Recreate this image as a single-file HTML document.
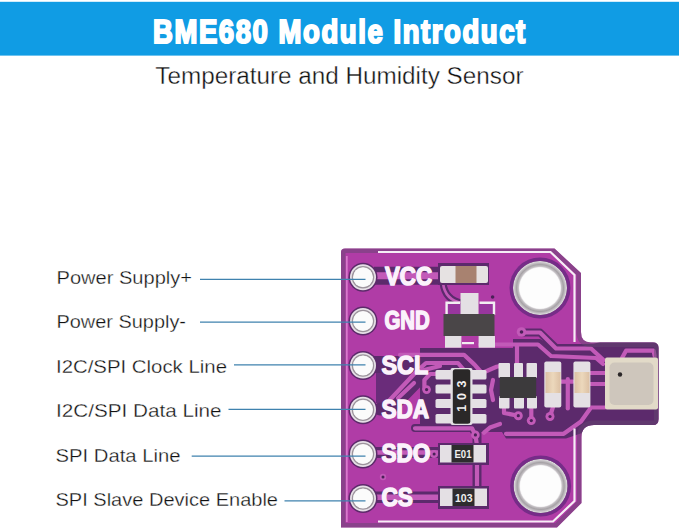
<!DOCTYPE html>
<html><head><meta charset="utf-8">
<style>
html,body{margin:0;padding:0;background:#fff;width:679px;height:530px;overflow:hidden}
svg{position:absolute;left:0;top:0;display:block}
text{font-family:"Liberation Sans",sans-serif}
</style></head>
<body>
<svg width="679" height="530" viewBox="0 0 679 530">
<defs>
<clipPath id="pcbclip"><path d="M341,252 Q341,248.5 345,248.5 L554.5,248.5 L581,273 L581,332 Q581,342.5 591,342.5 L653,342.5 Q658.5,342.5 658.5,348 L658.5,419 Q658.5,425 653,425 L594,425 Q581.5,425 581.5,437 L581.5,503 L557,527.6 L341,527.6 Z"/></clipPath>
<radialGradient id="ringg" cx="50%" cy="50%" r="50%">
<stop offset="0.76" stop-color="#f0eef0"/><stop offset="0.8" stop-color="#c4c0c4"/><stop offset="0.87" stop-color="#a6a2a6"/><stop offset="0.94" stop-color="#c8c4c8"/><stop offset="0.98" stop-color="#dedade"/><stop offset="1" stop-color="#9a969a"/>
</radialGradient>
<linearGradient id="capg" x1="0" y1="0" x2="1" y2="0"><stop offset="0" stop-color="#dcc0a4"/><stop offset="0.5" stop-color="#ecd8bc"/><stop offset="1" stop-color="#dcc0a4"/></linearGradient>
</defs>
<rect x="0" y="0" width="679" height="530" fill="#fff"/>
<!-- header -->
<rect x="0" y="1.8" width="679" height="53.8" fill="#109ce4"/>
<text transform="translate(153,42.6) scale(0.82,1)" font-size="33.5" font-weight="bold" fill="#fff" stroke="#fff" stroke-width="2.1" stroke-linejoin="miter" letter-spacing="1.94">BME680 Module Introduct</text>
<text x="155.3" y="83.7" font-size="23" fill="#111" stroke="#fff" stroke-width="0.35" textLength="368.2" lengthAdjust="spacingAndGlyphs">Temperature and Humidity Sensor</text>

<!-- labels -->
<g font-size="18.3" fill="#111" stroke="#fff" stroke-width="0.3">
<text x="56.5" y="284" textLength="135.5" lengthAdjust="spacingAndGlyphs">Power Supply+</text>
<text x="56.5" y="327.5" textLength="129.5" lengthAdjust="spacingAndGlyphs">Power Supply-</text>
<text x="56" y="373" textLength="171" lengthAdjust="spacingAndGlyphs">I2C/SPI Clock Line</text>
<text x="56" y="416.5" textLength="165.5" lengthAdjust="spacingAndGlyphs">I2C/SPI Data Line</text>
<text x="55.5" y="462" textLength="125" lengthAdjust="spacingAndGlyphs">SPI Data Line</text>
<text x="55.5" y="506" textLength="222.5" lengthAdjust="spacingAndGlyphs">SPI Slave Device Enable</text>
</g>

<!-- PCB -->
<g id="pcb">
<path d="M341,252 Q341,248.5 345,248.5 L554.5,248.5 L581,273 L581,332 Q581,342.5 591,342.5 L653,342.5 Q658.5,342.5 658.5,348 L658.5,419 Q658.5,425 653,425 L594,425 Q581.5,425 581.5,437 L581.5,503 L557,527.6 L341,527.6 Z" fill="#b03ca6"/>
<g clip-path="url(#pcbclip)">
<!-- dark no-copper zone -->
<path d="M420,348 L513,348 L513,339 L540,339 L554,346 L590,345 L600,342 L660,342 L660,426 L594,426 L582,433 L566,438.5 L506,438.5 L502,432 L420,432 Z" fill="#5c2a6c"/>
<path d="M376,373 L414,373 L386,403 L376,403 Z" fill="#6a2c7a"/>
<!-- traces: outline then center -->
<g fill="none" stroke-linejoin="round" stroke-linecap="round">
 <g stroke="#5c2a6c" stroke-width="8">
  <polyline points="374,275.7 441,275.7" stroke-width="18" stroke-linecap="butt"/>
  <polyline points="374,364.5 420,364.5" stroke-width="17" stroke-linecap="butt"/>
  <polyline points="380,409 390,409 420,378" stroke-width="13"/>
  <polyline points="374,452.5 440,452.5" stroke-width="11" stroke-linecap="butt"/>
  <polyline points="374,497.3 440,497.3" stroke-width="11.5" stroke-linecap="butt"/>
  <polyline points="521.5,332.5 540,332.5 556,348 600,348"/>
  <polyline points="477,434 477,489" stroke-width="9"/>
  <path d="M443,283 Q445,300 462,303" stroke-width="7"/>
  <polyline points="415,428 472,428 476,434"/>
 </g>
 <g stroke="#c25ab8" stroke-width="4.2">
  <polyline points="376,275.7 441,275.7" stroke-width="7"/>
  <path d="M443,283 Q445,300 462,303" stroke-width="2.6"/>
  <polyline points="386,404 416,372 440,366"/>
  <polyline points="398,398 414,383"/>
  <polyline points="400,354.8 464,354.8 474.5,364.6 481,372"/>
  <polyline points="421.5,367 426,363 458,363 464,370"/>
  <polyline points="436,374 430,374 424.4,380 424.4,389"/>
  <polyline points="483,372.7 489,370 496.6,366.8 500,366"/>
  <polyline points="493,380 491,390 493,400"/>
  <polyline points="521.5,332.5 540,332.5 556,348.5 591,348.5 603.5,360"/>
  <polyline points="480,344.5 538,344.5 551,356 596,358 603,364"/>
  <polyline points="517,345 517,363"/>
  <polyline points="504,408 504,413 518.3,415.7"/>
  <polyline points="531.3,408 531.3,420.6"/>
  <polyline points="553,407 550,416.5"/>
  <polyline points="567.8,379 567.8,408.5"/>
  <polyline points="561,381.7 573,381.7"/>
  <polyline points="590,373 605,373"/>
  <polyline points="590,384 605,384"/>
  <polyline points="622,358 626,350.7 653.6,350.7 654.6,355.8"/>
  <polyline points="415,428.3 472,428.3 475.4,434.9 476.9,445"/>
  <polyline points="484,432.7 490,427.5 500,424"/>
  <polyline points="506,433.8 563.7,433.8 581,421.5 591,407.5 605,407.5"/>
  <polyline points="477,462 477,489"/>
  <polyline points="376,497.3 440,497.3" stroke-width="5.5" stroke-linecap="butt"/>
  <polyline points="376,452.5 440,452.5" stroke-width="4.5" stroke-linecap="butt"/>
 </g>
 <g fill="#c25ab8" stroke="none">
  <circle cx="521.5" cy="332" r="4.8"/><circle cx="518.3" cy="415.7" r="4.5"/><circle cx="531.3" cy="420.6" r="4.5"/><circle cx="550" cy="416.5" r="4.5"/>
  <circle cx="426.6" cy="389.6" r="4.3"/><circle cx="475.4" cy="434.9" r="4.3"/><circle cx="434.1" cy="454" r="4"/><circle cx="383" cy="477" r="3.2"/>
 </g>
 <g fill="#4a2058">
  <circle cx="521.5" cy="332" r="1.8"/><circle cx="518.3" cy="415.7" r="1.6"/><circle cx="531.3" cy="420.6" r="1.6"/><circle cx="550" cy="416.5" r="1.6"/>
  <circle cx="426.6" cy="389.6" r="1.6"/><circle cx="475.4" cy="434.9" r="1.6"/><circle cx="434.1" cy="454" r="1.5"/><circle cx="492.6" cy="297" r="1.8"/><circle cx="383" cy="477" r="1.5"/>
 </g>
</g>
<!-- edge band -->
<path d="M341,252 Q341,248.5 345,248.5 L554.5,248.5 L581,273 L581,332 Q581,342.5 591,342.5 L653,342.5 Q658.5,342.5 658.5,348 L658.5,419 Q658.5,425 653,425 L594,425 Q581.5,425 581.5,437 L581.5,503 L557,527.6 L341,527.6 Z" fill="none" stroke="rgba(100,70,112,0.5)" stroke-width="9"/>
<line x1="346.8" y1="256" x2="346.8" y2="522" stroke="#d878cc" stroke-width="1.8"/>
</g>
<!-- silkscreen border -->
<g fill="none" stroke="#f6eef6" stroke-width="2.2">
<path d="M378,252 L550.5,252 L574.5,275 L574.5,342"/>
<path d="M574.5,428.5 L574.5,501 L553,521.5 L378,521.5"/>
</g>

<!-- pin holes -->
<g id="pins">
<g transform="translate(363,277.3)"><circle r="14.5" fill="#5c2a6a"/><circle r="13" fill="#e6e0e6"/><circle r="10.6" fill="none" stroke="#9c949c" stroke-width="1.3"/><circle r="9.8" fill="#fbfbfb"/></g>
<g transform="translate(363,321)"><circle r="14.5" fill="#5c2a6a"/><circle r="13" fill="#e6e0e6"/><circle r="10.6" fill="none" stroke="#9c949c" stroke-width="1.3"/><circle r="9.8" fill="#fbfbfb"/></g>
<g transform="translate(363,365.5)"><circle r="14.5" fill="#5c2a6a"/><circle r="13" fill="#e6e0e6"/><circle r="10.6" fill="none" stroke="#9c949c" stroke-width="1.3"/><circle r="9.8" fill="#fbfbfb"/></g>
<g transform="translate(363,409.8)"><circle r="14.5" fill="#5c2a6a"/><circle r="13" fill="#e6e0e6"/><circle r="10.6" fill="none" stroke="#9c949c" stroke-width="1.3"/><circle r="9.8" fill="#fbfbfb"/></g>
<g transform="translate(363,454)"><circle r="14.5" fill="#5c2a6a"/><circle r="13" fill="#e6e0e6"/><circle r="10.6" fill="none" stroke="#9c949c" stroke-width="1.3"/><circle r="9.8" fill="#fbfbfb"/></g>
<g transform="translate(363,498.5)"><circle r="14.5" fill="#5c2a6a"/><circle r="13" fill="#e6e0e6"/><circle r="10.6" fill="none" stroke="#9c949c" stroke-width="1.3"/><circle r="9.8" fill="#fbfbfb"/></g>
</g>
<!-- mount holes -->
<g transform="translate(540,288)"><circle r="30.5" fill="#762c88"/><circle r="27" fill="url(#ringg)"/><circle r="20.5" fill="#fdfdfd"/></g>
<g transform="translate(540.6,486)"><circle r="30.5" fill="#762c88"/><circle r="27" fill="url(#ringg)"/><circle r="20.5" fill="#fdfdfd"/></g>

<!-- pin labels -->
<g font-weight="bold" fill="#fbf2fb" stroke="#fbf2fb" stroke-width="1.5" stroke-linejoin="round" font-size="25">
<text transform="translate(385,285.2) scale(0.81,1)" textLength="58.1" lengthAdjust="spacingAndGlyphs">VCC</text>
<text transform="translate(384.5,329.2) scale(0.81,1)" textLength="56" lengthAdjust="spacingAndGlyphs">GND</text>
<text transform="translate(381.5,373.5) scale(0.81,1)" textLength="57.6" lengthAdjust="spacingAndGlyphs">SCL</text>
<text transform="translate(381.5,417.7) scale(0.81,1)" textLength="58.7" lengthAdjust="spacingAndGlyphs">SDA</text>
<text transform="translate(381.5,461.7) scale(0.81,1)" textLength="60.3" lengthAdjust="spacingAndGlyphs">SDO</text>
<text transform="translate(381.5,505.7) scale(0.81,1)" textLength="38.9" lengthAdjust="spacingAndGlyphs">CS</text>
</g>

<!-- components -->
<!-- VCC cap -->
<rect x="438" y="263" width="51" height="22" fill="#5c2a6c"/>
<rect x="440" y="266" width="48" height="17" rx="2" fill="#e6e2e2"/>
<rect x="455.5" y="266" width="21" height="17" fill="#a88270"/>
<!-- SOT-23 -->
<rect x="447" y="303" width="14" height="11" fill="#98369e"/><rect x="479" y="303" width="15" height="11" fill="#98369e"/>
<path d="M446.6,315 L446.6,302.7 L460,302.7 M479.5,302.7 L494,302.7 L494,315" fill="none" stroke="#f2eef2" stroke-width="2.4"/>
<rect x="460.5" y="293" width="18" height="21" fill="#e4e0e4"/>
<rect x="443.5" y="314" width="51" height="22" fill="#4a4648"/>
<rect x="445" y="336" width="16.4" height="11.7" fill="#e4e0e4"/>
<rect x="478.6" y="336" width="16.4" height="11.7" fill="#e4e0e4"/>
<rect x="462" y="342" width="12" height="2.2" fill="#f2eef2"/>
<!-- 103 array -->
<g fill="#e4e0e4">
<rect x="435.5" y="370" width="18" height="9.5" rx="1.5"/><rect x="435.5" y="384.5" width="18" height="9" rx="1.5"/><rect x="435.5" y="399" width="18" height="9" rx="1.5"/><rect x="435.5" y="414" width="18" height="9.5" rx="1.5"/>
<rect x="469" y="370" width="17.5" height="9.5" rx="1.5"/><rect x="469" y="384.5" width="17.5" height="9" rx="1.5"/><rect x="469" y="399" width="17.5" height="9" rx="1.5"/><rect x="469" y="414" width="17.5" height="9.5" rx="1.5"/>
<rect x="450.5" y="368" width="22" height="57" rx="2"/>
</g>
<rect x="452.8" y="369.3" width="17.5" height="54.5" rx="2.5" fill="#2a2828"/>
<g fill="#f2f0f0" font-size="12.5" font-weight="bold" text-anchor="middle">
<text transform="translate(465.8,408.2) rotate(-90)">1</text>
<text transform="translate(465.8,396.5) rotate(-90)">0</text>
<text transform="translate(465.8,384) rotate(-90)">3</text>
</g>
<!-- SOT-23-6 -->
<g fill="#e4e0e4">
<rect x="498.5" y="363" width="11.5" height="15" rx="1"/><rect x="514" y="363" width="9" height="15" rx="1"/><rect x="526.5" y="363" width="10.5" height="15" rx="1"/>
<rect x="499" y="396" width="10.5" height="12.5" rx="1"/><rect x="514" y="396" width="10" height="12.5" rx="1"/><rect x="527" y="396" width="10" height="12.5" rx="1"/>
</g>
<rect x="499.7" y="377" width="36.5" height="21" fill="#3c3a3c"/>
<!-- caps -->
<rect x="544.3" y="361.5" width="17" height="46" rx="2" fill="#e4e0e4"/>
<rect x="545.5" y="372" width="15" height="21" fill="url(#capg)"/>
<rect x="573.4" y="361.5" width="17" height="46" rx="2" fill="#e4e0e4"/>
<rect x="574.5" y="372" width="15" height="21" fill="url(#capg)"/>
<!-- sensor -->
<rect x="605" y="357.5" width="53" height="52" rx="2" fill="#e2dac8"/>
<rect x="609.5" y="362.5" width="44" height="42.5" rx="5" fill="#cec6bc"/>
<circle cx="620" cy="374.5" r="2.2" fill="#2a2628"/>
<!-- resistors -->
<rect x="438" y="443" width="51" height="22" fill="#5c2a6c"/>
<rect x="440" y="445" width="46" height="17.5" fill="#e4e0e4"/>
<rect x="451.5" y="445" width="22" height="17.5" fill="#2e2c2e"/>
<text x="454.5" y="457.5" font-size="10.5" font-weight="bold" fill="#f0f0f0" textLength="17" lengthAdjust="spacingAndGlyphs">E01</text>
<rect x="438" y="486" width="51" height="23" fill="#5c2a6c"/>
<rect x="440" y="488.5" width="47" height="17.5" fill="#e4e0e4"/>
<rect x="452.5" y="488.5" width="22" height="17.5" fill="#2e2c2e"/>
<text x="455" y="501.5" font-size="10.5" font-weight="bold" fill="#f0f0f0" textLength="17.5" lengthAdjust="spacingAndGlyphs">103</text>
</g>

<!-- callout lines -->
<g stroke="#3f82ae" stroke-width="1.3">
<line x1="200" y1="279.4" x2="365.5" y2="279.4"/>
<line x1="200" y1="322.2" x2="365.5" y2="322.2"/>
<line x1="234" y1="364.8" x2="365.5" y2="364.8"/>
<line x1="228.5" y1="409.4" x2="365.5" y2="409.4"/>
<line x1="191.7" y1="456.2" x2="365.5" y2="456.2"/>
<line x1="284.5" y1="500.8" x2="365.5" y2="500.8"/>
</g>
</svg>
</body></html>
